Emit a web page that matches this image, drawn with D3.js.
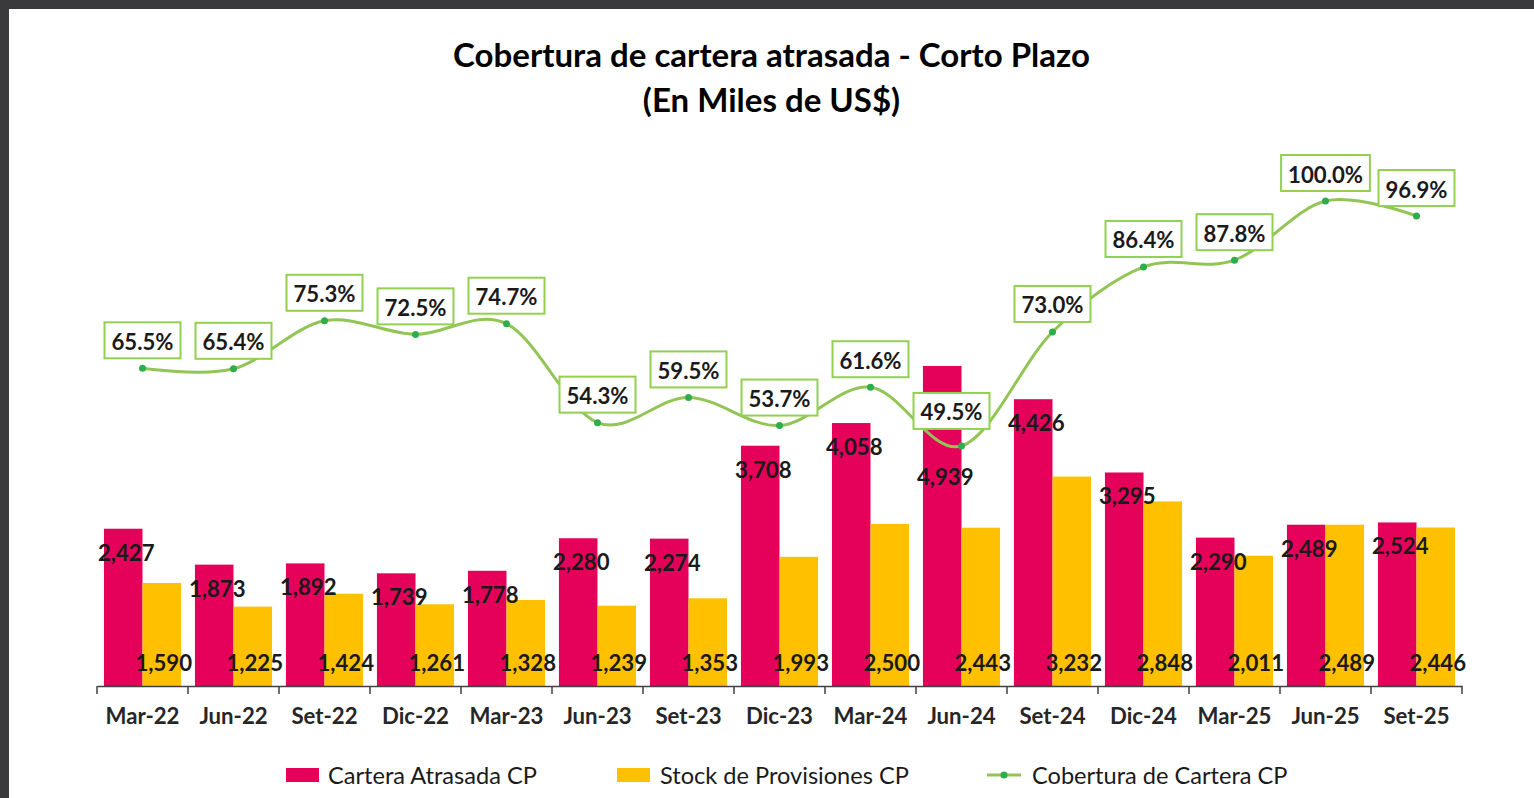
<!DOCTYPE html>
<html><head><meta charset="utf-8">
<script src="https://cdn.jsdelivr.net/npm/d3@7"></script>
<style>
html,body{margin:0;padding:0;background:#3a3a3c;overflow:hidden}
svg{display:block}
</style></head>
<body>
<svg id="chart" width="1534" height="798"></svg>
<script>
const categories = ["Mar-22","Jun-22","Set-22","Dic-22","Mar-23","Jun-23","Set-23","Dic-23","Mar-24","Jun-24","Set-24","Dic-24","Mar-25","Jun-25","Set-25"];
const carteraAtrasada = [2427,1873,1892,1739,1778,2280,2274,3708,4058,4939,4426,3295,2290,2489,2524];
const stockProvisiones = [1590,1225,1424,1261,1328,1239,1353,1993,2500,2443,3232,2848,2011,2489,2446];
const cobertura = [65.5,65.4,75.3,72.5,74.7,54.3,59.5,53.7,61.6,49.5,73.0,86.4,87.8,100.0,96.9];
const seriesNames = ["Cartera Atrasada CP","Stock de Provisiones CP","Cobertura de Cartera CP"];
const titleLines = ["Cobertura de cartera atrasada - Corto Plazo","(En Miles de US$)"];

const RED="#E5005A", YEL="#FFC000", LINE="#93C456", DOT="#2EAE4A", BOX="#92D050";
const FONT="Lato, 'Open Sans', sans-serif";

const svg = d3.select("#chart");
svg.append("rect").attr("x",9).attr("y",9).attr("width",1525).attr("height",789).attr("fill","#fff");

// font fitting helper
function fitSize(sample, weight, target){
  const t = svg.append("text").attr("font-family",FONT).attr("font-weight",weight).attr("font-size",100).text(sample);
  const w = t.node().getComputedTextLength(); t.remove();
  return 100*target/w;
}
const fsTitle = fitSize(titleLines[0],"bold",637);
const fsData = fitSize("65.5%","bold",62);
const fsTick = fitSize("Mar-22","bold",74);
const fsLeg = fitSize(seriesNames[0],"normal",209);

const x0 = d3.scaleBand().domain(categories).range([97,1462]).padding(0);
const x1 = d3.scaleBand().domain(["a","b"]).range([0,x0.bandwidth()]).paddingInner(0).paddingOuter(0.18);
const yBar = d3.scaleLinear().domain([0,6000]).range([686,297.2]);
const yPct = d3.scaleLinear().domain([0,120]).range([686,104]);
const fmt = d3.format(",");

// title
titleLines.forEach((t,i)=>{
  svg.append("text").attr("x",771.5).attr("y",i===0?67:112).attr("text-anchor","middle")
    .attr("font-family",FONT).attr("font-weight","bold").attr("font-size",fsTitle).attr("fill","#000").text(t);
});

const data = categories.map((c,i)=>({c, a:carteraAtrasada[i], s:stockProvisiones[i], p:cobertura[i]}));

// bars
const g = svg.append("g");
g.selectAll("rect.red").data(data).join("rect").attr("class","red")
  .attr("x",d=>x0(d.c)+x1("a")).attr("width",x1.bandwidth())
  .attr("y",d=>yBar(d.a)).attr("height",d=>yBar(0)-yBar(d.a)).attr("fill",RED);
g.selectAll("rect.yel").data(data).join("rect").attr("class","yel")
  .attr("x",d=>x0(d.c)+x1("b")).attr("width",x1.bandwidth())
  .attr("y",d=>yBar(d.s)).attr("height",d=>yBar(0)-yBar(d.s)).attr("fill",YEL);

// axis
const axis = svg.append("g").attr("transform","translate(0,686)")
  .call(d3.axisBottom(x0).tickSize(0).tickSizeOuter(0).tickPadding(0).tickFormat(""));
axis.select(".domain").attr("stroke","#404040").attr("stroke-width",1.5);
const bounds = categories.map(c=>x0(c)).concat([x0.range()[1]]);
axis.selectAll("line.bt").data(bounds).join("line").attr("class","bt")
  .attr("x1",d=>d).attr("x2",d=>d).attr("y1",0).attr("y2",8).attr("stroke","#404040").attr("stroke-width",1.5);
svg.append("g").selectAll("text").data(categories).join("text")
  .attr("x",c=>x0(c)+x0.bandwidth()/2).attr("y",715).attr("dominant-baseline","central").attr("text-anchor","middle")
  .attr("font-family",FONT).attr("font-weight","bold").attr("font-size",fsTick).attr("fill","#262626").text(c=>c);

// bar labels
const redNudge = {"Jun-24":87};
g.selectAll("text.rl").data(data).join("text").attr("class","rl")
  .attr("x",d=>x0(d.c)+x1("a")+x1.bandwidth()/2+3)
  .attr("y",d=>yBar(d.a)+23.5+(redNudge[d.c]||0)).attr("dominant-baseline","central").attr("text-anchor","middle")
  .attr("font-family",FONT).attr("font-weight","bold").attr("font-size",fsData).attr("fill","#1a1a1a").text(d=>fmt(d.a));
g.selectAll("text.yl").data(data).join("text").attr("class","yl")
  .attr("x",d=>x0(d.c)+x1("b")+x1.bandwidth()/2+2)
  .attr("y",yBar(0)-23.5).attr("dominant-baseline","central").attr("text-anchor","middle")
  .attr("font-family",FONT).attr("font-weight","bold").attr("font-size",fsData).attr("fill","#1a1a1a").text(d=>fmt(d.s));

// line
const cx = d=>x0(d.c)+x0.bandwidth()/2;
const line = d3.line().x(cx).y(d=>yPct(d.p)).curve(d3.curveCardinal.tension(0));
svg.append("path").datum(data).attr("d",line).attr("fill","none").attr("stroke",LINE).attr("stroke-width",3).attr("stroke-linecap","round");
svg.append("g").selectAll("circle").data(data).join("circle").attr("cx",cx).attr("cy",d=>yPct(d.p)).attr("r",3.5).attr("fill",DOT);

// percent labels
const boxNudge = {"Jun-24":{dx:-10,dy:-7}};
const pf = d=>d.p.toFixed(1)+"%";
const lg = svg.append("g");
data.forEach(d=>{
  const n = boxNudge[d.c]||{dx:0,dy:0};
  const t = lg.append("text").attr("font-family",FONT).attr("font-weight","bold").attr("font-size",fsData)
    .attr("fill","#1a1a1a").attr("text-anchor","middle").attr("dominant-baseline","central").text(pf(d));
  const w = t.node().getComputedTextLength();
  const bw = w+14, bh = 36;
  const bx = cx(d)+n.dx-bw/2, by = yPct(d.p)-10-bh+n.dy;
  lg.insert("rect","text").attr("x",bx).attr("y",by).attr("width",bw).attr("height",bh)
    .attr("fill","#fff").attr("stroke",BOX).attr("stroke-width",2);
  t.attr("x",bx+bw/2).attr("y",by+bh/2+1);
});
lg.selectAll("text").raise();

// legend
const leg = svg.append("g");
leg.append("rect").attr("x",286).attr("y",768).attr("width",33).attr("height",14).attr("fill",RED);
leg.append("text").attr("x",328).attr("y",775).text(seriesNames[0]);
leg.append("rect").attr("x",617).attr("y",768).attr("width",33).attr("height",14).attr("fill",YEL);
leg.append("text").attr("x",660).attr("y",775).text(seriesNames[1]);
leg.append("line").attr("x1",987).attr("x2",1021).attr("y1",775).attr("y2",775).attr("stroke",LINE).attr("stroke-width",3);
leg.append("circle").attr("cx",1004).attr("cy",775).attr("r",3.5).attr("fill",DOT);
leg.append("text").attr("x",1032).attr("y",775).text(seriesNames[2]);
leg.selectAll("text").attr("font-family",FONT).attr("font-size",fsLeg).attr("fill","#1a1a1a").attr("dominant-baseline","central");
</script>
</body></html>
